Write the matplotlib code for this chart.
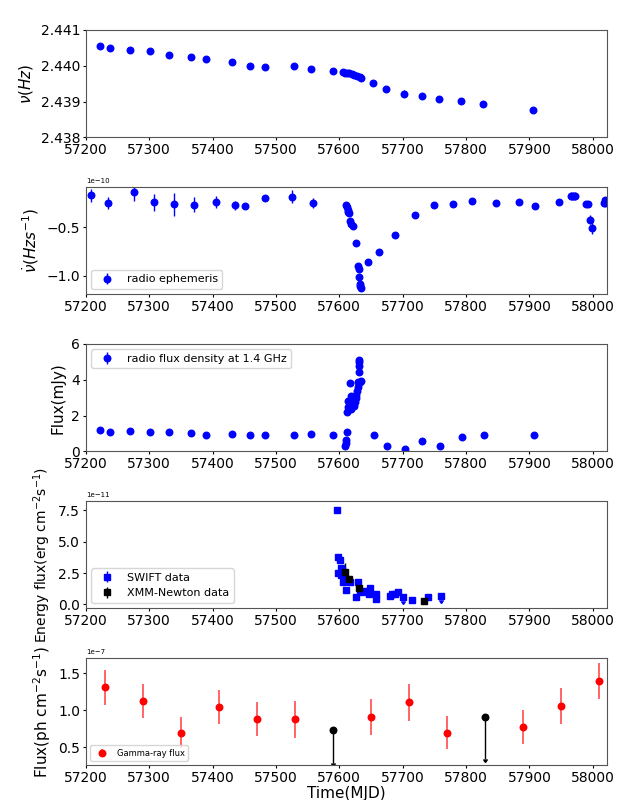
import matplotlib
matplotlib.use('Agg')
import matplotlib.pyplot as plt
from matplotlib.ticker import FormatStrFormatter

# spin frequency (Hz)
t_nu = [57222, 57238, 57270, 57301, 57331, 57366, 57390, 57431, 57459, 57483,
        57528, 57556, 57590, 57606, 57609, 57612, 57616, 57620, 57624, 57628,
        57632, 57635, 57654, 57674, 57702, 57730, 57758, 57792, 57827, 57906]
nu = [2.44056, 2.44049, 2.44045, 2.44041, 2.44029, 2.44025, 2.44018, 2.44011, 2.44000, 2.43997,
      2.43999, 2.43990, 2.43985, 2.43982, 2.43981, 2.43980, 2.43979, 2.43977, 2.43975, 2.43972,
      2.43968, 2.43966, 2.43951, 2.43935, 2.43922, 2.43917, 2.43907, 2.43903, 2.43894, 2.43878]
nu_err = [3e-5, 3e-5, 4e-5, 3e-5, 3e-5, 6e-5, 3e-5, 3e-5, 3e-5, 6e-5,
          3e-5, 3e-5, 4e-5, 2e-5, 2e-5, 2e-5, 2e-5, 2e-5, 2e-5, 2e-5,
          2e-5, 2e-5, 8e-5, 8e-5, 1e-4, 3e-5, 3e-5, 3e-5, 4e-5, 4e-5]

# frequency derivative (1e-10 Hz/s)
t_nudot = [57208, 57235, 57276, 57308, 57340, 57371, 57405, 57436, 57451, 57483, 57525, 57558,
           57611, 57612, 57613, 57614, 57615, 57617, 57619, 57621, 57626, 57630, 57630.5, 57631,
           57632, 57633, 57634, 57645, 57663, 57688, 57719, 57749, 57780, 57810, 57848, 57883,
           57909, 57946, 57966, 57969, 57972, 57989, 57992, 57995, 57998, 58017, 58019, 58020]
nudot = [-0.170, -0.247, -0.135, -0.243, -0.264, -0.267, -0.240, -0.274, -0.278, -0.201, -0.184, -0.247,
         -0.265, -0.292, -0.317, -0.337, -0.351, -0.438, -0.465, -0.490, -0.663, -0.905, -0.933, -1.009,
         -1.090, -1.110, -1.125, -0.862, -0.758, -0.580, -0.373, -0.265, -0.264, -0.233, -0.247, -0.236,
         -0.276, -0.238, -0.178, -0.175, -0.180, -0.258, -0.258, -0.420, -0.505, -0.254, -0.213, -0.244]
nudot_err = [0.065, 0.06, 0.09, 0.09, 0.12, 0.08, 0.06, 0.05, 0.03, 0.03, 0.07, 0.05,
             0.02, 0.02, 0.02, 0.02, 0.02, 0.02, 0.02, 0.02, 0.02, 0.02, 0.02, 0.02,
             0.02, 0.02, 0.02, 0.02, 0.02, 0.02, 0.02, 0.02, 0.02, 0.02, 0.02, 0.02,
             0.02, 0.03, 0.04, 0.04, 0.04, 0.02, 0.02, 0.05, 0.06, 0.02, 0.03, 0.02]

# radio flux density at 1.4 GHz (mJy)
t_radio = [57222, 57238, 57270, 57301, 57331, 57366, 57390, 57431, 57459, 57483, 57528, 57556, 57590,
           57609, 57610, 57611, 57612, 57612.6, 57614, 57614.5, 57616, 57617.5, 57618, 57619, 57621,
           57622, 57624, 57625, 57626, 57627, 57628, 57629, 57630, 57631, 57631.2, 57631.5, 57631.8,
           57633, 57635, 57655, 57675, 57703, 57731, 57759, 57793, 57828, 57907]
flux_radio = [1.19, 1.08, 1.15, 1.11, 1.09, 1.02, 0.92, 0.98, 0.89, 0.94, 0.94, 0.98, 0.94,
              0.30, 0.45, 0.65, 1.08, 2.20, 2.45, 2.80, 2.79, 3.79, 3.08, 2.36, 2.62,
              2.70, 2.55, 2.73, 3.17, 2.96, 3.38, 3.57, 3.85, 4.41, 4.78, 4.97, 5.10,
              3.89, 3.94, 0.92, 0.28, 0.13, 0.60, 0.28, 0.81, 0.89, 0.91]
flux_radio_err = [0.1] * len(flux_radio)

# X-ray energy flux (1e-11 erg/cm2/s)
t_swift = [57596.5, 57598, 57601, 57598, 57602, 57605, 57603.5, 57606, 57609, 57610, 57617, 57627,
           57630, 57633, 57639, 57643, 57648, 57647, 57658, 57658, 57680, 57683, 57688, 57693,
           57715, 57740]
f_swift = [7.53, 3.80, 3.53, 2.47, 2.87, 2.73, 2.33, 1.80, 2.13, 1.16, 1.80, 0.60,
           1.78, 1.00, 1.06, 1.00, 1.32, 0.83, 0.79, 0.39, 0.68, 0.80, 0.83, 0.95,
           0.31, 0.60]
f_swift_err = [0.2] + [0.12] * 25
t_swift_ul = [57700, 57760]
f_swift_ul = [0.60, 0.68]
t_xmm = [57609, 57615, 57631, 57734]
f_xmm = [2.60, 1.99, 1.27, 0.26]
f_xmm_err = [0.7, 0.15, 0.1, 0.05]

# gamma-ray flux (1e-7 ph/cm2/s)
t_gam = [57230, 57290, 57350, 57410, 57470, 57530, 57650, 57710, 57770, 57890, 57950, 58010]
f_gam = [1.31, 1.13, 0.70, 1.05, 0.88, 0.88, 0.91, 1.11, 0.70, 0.78, 1.06, 1.40]
f_gam_err = [0.24, 0.23, 0.21, 0.23, 0.23, 0.25, 0.24, 0.25, 0.22, 0.23, 0.245, 0.24]
t_gam_ul = [57590, 57830]
f_gam_ul = [0.74, 0.91]
f_gam_ul_len = [0.45, 0.56]


fig, axes = plt.subplots(5, 1, figsize=(6.4, 8), dpi=100)
fig.subplots_adjust(left=0.134, right=0.948, top=0.9625, bottom=0.0434, hspace=0.46)

for ax in axes:
    ax.set_xlim(57200, 58022)
    ax.set_xticks(range(57200, 58001, 100))
    ax.tick_params(labelsize=10, length=2.5, pad=1.5)
    for s in ax.spines.values():
        s.set_edgecolor('#555555')
    ax.yaxis.offsetText.set_fontsize(5)

# 1. frequency
ax = axes[0]
ax.errorbar(t_nu, nu, yerr=nu_err, fmt='o', color='b', ms=4.7, elinewidth=1)
ax.set_ylim(2.438, 2.441)
ax.set_yticks([2.438, 2.439, 2.440, 2.441])
ax.yaxis.set_major_formatter(FormatStrFormatter('%.3f'))
ax.set_ylabel(r'$\nu (Hz)$', fontsize=11)

# 2. frequency derivative
ax = axes[1]
ax.errorbar(t_nudot, [v * 1e-10 for v in nudot], yerr=[e * 1e-10 for e in nudot_err],
            fmt='o', color='b', ms=4.7, elinewidth=1, label='radio ephemeris')
ax.set_ylim(-1.194e-10, -0.083e-10)
ax.set_yticks([-1.0e-10, -0.5e-10])
ax.set_ylabel(r'$\dot{\nu} (Hz s^{-1})$', fontsize=11)
ax.legend(loc='lower left', fontsize=8)

# 3. radio flux
ax = axes[2]
ax.errorbar(t_radio, flux_radio, yerr=flux_radio_err, fmt='o', color='b', ms=4.7,
            elinewidth=1, label='radio flux density at 1.4 GHz')
ax.set_ylim(0, 6)
ax.set_yticks([0, 2, 4, 6])
ax.set_ylabel('Flux(mJy)', fontsize=11)
ax.legend(loc='upper left', fontsize=8)

# 4. X-ray flux
ax = axes[3]
ax.errorbar(t_swift, [v * 1e-11 for v in f_swift], yerr=[e * 1e-11 for e in f_swift_err],
            fmt='s', color='b', ms=5, elinewidth=1, label='SWIFT data')
ax.errorbar(t_swift_ul, [v * 1e-11 for v in f_swift_ul], yerr=0.3e-11, uplims=True,
            fmt='s', color='b', ms=4, elinewidth=1, capsize=1.5)
ax.errorbar(t_xmm, [v * 1e-11 for v in f_xmm], yerr=[e * 1e-11 for e in f_xmm_err],
            fmt='s', color='k', ms=5, elinewidth=1, label='XMM-Newton data')
ax.set_ylim(-0.32e-11, 8.27e-11)
ax.set_yticks([0, 2.5e-11, 5e-11, 7.5e-11])
ax.set_ylabel(r'Energy flux(erg cm$^{-2}$s$^{-1}$)', fontsize=10)
ax.legend(loc='lower left', fontsize=8)

# 5. gamma-ray flux
ax = axes[4]
ax.errorbar(t_gam, [v * 1e-7 for v in f_gam], yerr=[e * 1e-7 for e in f_gam_err],
            fmt='o', color='r', ecolor=(1, 0, 0, 0.7), ms=4.7, elinewidth=1.2, label='Gamma-ray flux')
ax.errorbar(t_gam_ul, [v * 1e-7 for v in f_gam_ul], yerr=[e * 1e-7 for e in f_gam_ul_len],
            uplims=True, fmt='o', color='k', ms=4.7, elinewidth=1, capsize=1.5)
ax.set_ylim(0.26e-7, 1.71e-7)
ax.set_yticks([0.5e-7, 1.0e-7, 1.5e-7])
ax.set_ylabel(r'Flux(ph cm$^{-2}$s$^{-1}$)', fontsize=11)
ax.set_xlabel('Time(MJD)', fontsize=11, labelpad=1)
ax.legend(loc='lower left', fontsize=6)

plt.savefig('out.png', dpi=100)
